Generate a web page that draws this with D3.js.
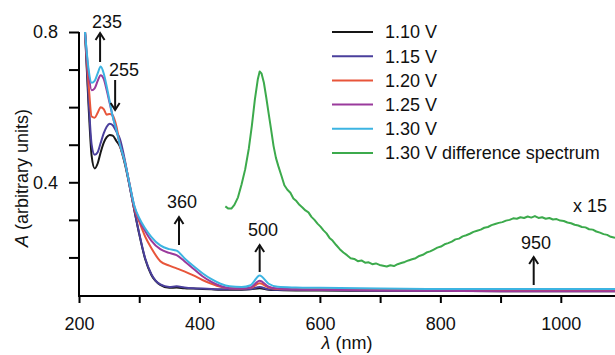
<!DOCTYPE html>
<html>
<head>
<meta charset="utf-8">
<script src="https://cdn.jsdelivr.net/npm/d3@7"></script>
<style>
  body { margin: 0; background: #fff; }
  svg text { font-family: "Liberation Sans", Arial, sans-serif; fill: #111; }
</style>
</head>
<body>
<div id="chart"></div>
<script>
// Wavelength grid (nm) shared by the five potential-step spectra
const wavelengths = [210, 216, 221, 226, 231, 236, 241, 246, 251, 256, 262, 268, 276, 284, 292, 300,
  310, 320, 335, 350, 362, 375, 390, 405, 420, 435, 450, 470, 485, 500, 515, 530, 560, 600, 700, 800, 900, 1000, 1090];

const a110 = [0.80, 0.60, 0.47, 0.437, 0.45, 0.48, 0.505, 0.52, 0.526, 0.524, 0.51, 0.495, 0.45, 0.39, 0.325, 0.262,
  0.195, 0.154, 0.127, 0.119, 0.12, 0.118, 0.117, 0.116, 0.115, 0.114, 0.114, 0.114, 0.115, 0.118, 0.114, 0.113, 0.112, 0.112, 0.111, 0.111, 0.110, 0.110, 0.110];
const a115 = [0.80, 0.62, 0.50, 0.473, 0.48, 0.505, 0.53, 0.548, 0.556, 0.552, 0.535, 0.515, 0.46, 0.39, 0.325, 0.264,
  0.197, 0.156, 0.128, 0.121, 0.123, 0.12, 0.118, 0.117, 0.116, 0.115, 0.115, 0.115, 0.116, 0.121, 0.115, 0.114, 0.113, 0.113, 0.112, 0.112, 0.111, 0.111, 0.111];
const a120 = [0.80, 0.66, 0.575, 0.572, 0.585, 0.60, 0.595, 0.58, 0.582, 0.578, 0.55, 0.50, 0.455, 0.395, 0.33, 0.295,
  0.255, 0.225, 0.19, 0.178, 0.171, 0.163, 0.152, 0.14, 0.13, 0.122, 0.118, 0.117, 0.119, 0.131, 0.12, 0.116, 0.115, 0.115, 0.114, 0.113, 0.112, 0.112, 0.111];
const a125 = [0.80, 0.69, 0.645, 0.65, 0.67, 0.685, 0.675, 0.645, 0.61, 0.575, 0.54, 0.50, 0.455, 0.395, 0.335, 0.30,
  0.27, 0.245, 0.222, 0.212, 0.206, 0.19, 0.17, 0.15, 0.135, 0.124, 0.118, 0.117, 0.12, 0.138, 0.122, 0.117, 0.115, 0.114, 0.112, 0.111, 0.110, 0.110, 0.110];
const a130 = [0.80, 0.70, 0.665, 0.67, 0.69, 0.708, 0.69, 0.655, 0.615, 0.575, 0.54, 0.50, 0.455, 0.395, 0.337, 0.305,
  0.277, 0.255, 0.232, 0.222, 0.218, 0.198, 0.177, 0.158, 0.142, 0.13, 0.123, 0.121, 0.126, 0.152, 0.13, 0.122, 0.12, 0.119, 0.117, 0.116, 0.116, 0.116, 0.116];

// 1.30 V difference spectrum (x 15)
const diffWavelengths = [443, 448, 453, 458, 464, 470, 476, 482, 487, 492, 497, 500, 503, 507, 511, 515, 519, 523, 527, 531,
  536, 541, 546, 551, 556, 561, 566, 571, 576, 581, 586, 591, 596, 601, 606, 611, 616, 621, 627, 633,
  639, 645, 651, 657, 663, 669, 675, 681, 687, 693, 699, 705, 711, 717, 723, 729, 735, 741, 747, 753,
  759, 765, 771, 777, 783, 789, 795, 801, 807, 813, 819, 825, 831, 837, 843, 849, 855, 861, 867, 873,
  879, 885, 891, 897, 903, 909, 915, 921, 927, 933, 939, 945, 951, 957, 963, 969, 975, 981, 987, 993,
  999, 1005, 1011, 1017, 1023, 1029, 1035, 1041, 1047, 1053, 1059, 1065, 1071, 1077, 1083, 1090];
const diffValues = [0.336, 0.330, 0.330, 0.340, 0.360, 0.395, 0.435, 0.49, 0.55, 0.62, 0.675, 0.695, 0.690, 0.665, 0.625, 0.582, 0.540, 0.497, 0.465, 0.443,
  0.418, 0.392, 0.380, 0.372, 0.357, 0.350, 0.340, 0.333, 0.325, 0.320, 0.308, 0.300, 0.290, 0.282, 0.272, 0.264, 0.252, 0.245, 0.233, 0.222,
  0.213, 0.206, 0.198, 0.196, 0.190, 0.192, 0.186, 0.187, 0.182, 0.184, 0.180, 0.178, 0.176, 0.179, 0.177, 0.182, 0.185, 0.188, 0.192, 0.195,
  0.198, 0.204, 0.207, 0.213, 0.216, 0.221, 0.226, 0.229, 0.235, 0.238, 0.242, 0.248, 0.250, 0.256, 0.259, 0.263, 0.268, 0.271, 0.274, 0.279,
  0.281, 0.286, 0.289, 0.292, 0.294, 0.298, 0.300, 0.304, 0.303, 0.307, 0.305, 0.309, 0.306, 0.310, 0.305, 0.307, 0.303, 0.305, 0.301, 0.302,
  0.298, 0.297, 0.293, 0.291, 0.287, 0.285, 0.281, 0.280, 0.275, 0.274, 0.269, 0.266, 0.262, 0.260, 0.255, 0.252];

const seriesNames = ["1.10 V", "1.15 V", "1.20 V", "1.25 V", "1.30 V", "1.30 V difference spectrum"];
const seriesColors = ["#161616", "#4a3f9c", "#e8553a", "#9a3a9c", "#3cb4e2", "#3caa4c"];

const xTicks = [200, 300, 400, 500, 600, 700, 800, 900, 1000];
const xLabels = [200, 400, 600, 800, 1000];
const yTicks = [0.2, 0.3, 0.4, 0.5, 0.6, 0.7, 0.8];
const yLabels = [0.4, 0.8];

// Peak annotations: label, wavelength of arrow, direction
const peakLabels = ["235", "255", "360", "500", "950"];
const peakArrowNm = [235, 260, 366, 500, 955];
const peakUp = [true, false, true, true, true];

const width = 615, height = 355;
const margin = { top: 32, right: 0, bottom: 60, left: 79 };

const x = d3.scaleLinear().domain([200, 1090]).range([margin.left, width]);
const y = d3.scaleLinear().domain([0.1, 0.8]).range([295, margin.top]);

const svg = d3.select("#chart").append("svg")
    .attr("width", width)
    .attr("height", height);

const font = 18;

// Spectra
const spectra = [a110, a115, a120, a125, a130];
const line = d3.line()
    .x(d => x(d[0]))
    .y(d => y(d[1]))
    .curve(d3.curveMonotoneX);

svg.append("g")
    .selectAll("path")
    .data(spectra)
    .join("path")
    .attr("d", s => line(wavelengths.map((w, i) => [w, s[i]])))
    .attr("fill", "none")
    .attr("stroke", (s, i) => seriesColors[i])
    .attr("stroke-width", 2)
    .attr("stroke-linejoin", "round");

svg.append("path")
    .attr("d", d3.line().x(d => x(d[0])).y(d => y(d[1]))(diffWavelengths.map((w, i) => [w, diffValues[i]])))
    .attr("fill", "none")
    .attr("stroke", seriesColors[5])
    .attr("stroke-width", 2)
    .attr("stroke-linejoin", "round");

// Axes
svg.append("g")
    .attr("transform", `translate(0,${y(0.1) + 1})`)
    .call(d3.axisBottom(x).tickValues(xTicks).tickSize(7).tickPadding(14)
        .tickFormat(d => xLabels.includes(d) ? d : ""))
    .call(g => g.select(".domain").attr("stroke-width", 2).attr("d", `M${margin.left},0H${width}`))
    .call(g => g.selectAll(".tick line").attr("stroke-width", 2))
    .call(g => g.selectAll("text").attr("font-size", font).attr("fill", "#111"));

svg.append("g")
    .attr("transform", `translate(${margin.left},0)`)
    .call(d3.axisLeft(y).tickValues(yTicks).tickSize(10).tickPadding(11)
        .tickFormat(d => yLabels.some(v => Math.abs(v - d) < 1e-9) ? d3.format(".1f")(d) : ""))
    .call(g => g.select(".domain").attr("stroke-width", 2).attr("d", `M0,${margin.top}V${y(0.1) + 2}`))
    .call(g => g.selectAll(".tick line").attr("stroke-width", 2))
    .call(g => g.selectAll("text").attr("font-size", font).attr("fill", "#111"));

// Axis titles
const xt = svg.append("text")
    .attr("x", 347).attr("y", 349)
    .attr("text-anchor", "middle")
    .attr("font-size", font);
xt.append("tspan").attr("font-style", "italic").text("λ");
xt.append("tspan").text(" (nm)");

const yt = svg.append("text")
    .attr("transform", "translate(28,178) rotate(-90)")
    .attr("text-anchor", "middle")
    .attr("font-size", font);
yt.append("tspan").attr("font-style", "italic").text("A");
yt.append("tspan").text(" (arbitrary units)");

// Legend
const legend = svg.append("g");
seriesNames.forEach((name, i) => {
    const ly = 32 + i * 24.2;
    legend.append("line")
        .attr("x1", 332).attr("x2", 373)
        .attr("y1", ly).attr("y2", ly)
        .attr("stroke", seriesColors[i])
        .attr("stroke-width", 2);
    legend.append("text")
        .attr("x", 385).attr("y", ly)
        .attr("dy", "0.35em")
        .attr("font-size", font)
        .text(name);
});

// Peak arrows and labels (pixel layout of each annotation)
const arrowLayout = [
    { tail: 62, head: 33, tx: 107, ty: 22 },
    { tail: 80, head: 110, tx: 124, ty: 70 },
    { tail: 245, head: 217, tx: 182, ty: 202 },
    { tail: 272, head: 245, tx: 263, ty: 230 },
    { tail: 285, head: 257, tx: 536, ty: 243 }
];
const ann = svg.append("g");
peakLabels.forEach((lab, i) => {
    const ax = x(peakArrowNm[i]);
    const L = arrowLayout[i];
    const dir = peakUp[i] ? 1 : -1;
    ann.append("line")
        .attr("x1", ax).attr("x2", ax)
        .attr("y1", L.tail).attr("y2", L.head)
        .attr("stroke", "#111").attr("stroke-width", 2);
    ann.append("path")
        .attr("d", `M${ax - 4.5},${L.head + dir * 7}L${ax},${L.head}L${ax + 4.5},${L.head + dir * 7}`)
        .attr("fill", "none")
        .attr("stroke", "#111").attr("stroke-width", 2);
    ann.append("text")
        .attr("x", L.tx).attr("y", L.ty)
        .attr("dy", "0.35em")
        .attr("text-anchor", "middle")
        .attr("font-size", font)
        .text(lab);
});

svg.append("text")
    .attr("x", 590).attr("y", 206)
    .attr("dy", "0.35em")
    .attr("text-anchor", "middle")
    .attr("font-size", font)
    .text("x 15");
</script>
</body>
</html>
